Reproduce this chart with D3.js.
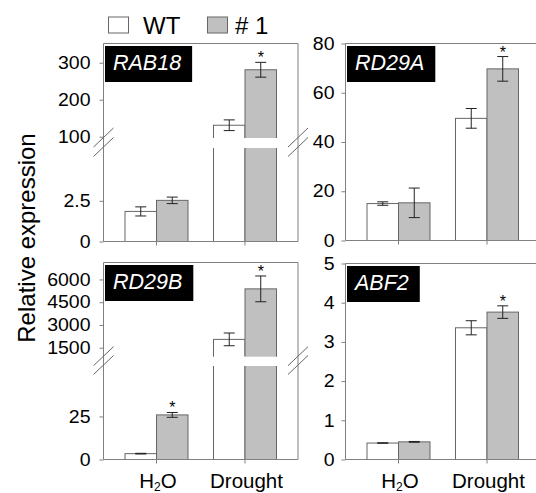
<!DOCTYPE html>
<html><head><meta charset="utf-8">
<script src="https://cdn.jsdelivr.net/npm/d3@7"></script>
<style>body{margin:0;background:#fff}svg{display:block;font-family:"Liberation Sans",Arial,sans-serif}</style>
</head><body><svg id="c" width="536" height="493"></svg>
<script>
// ---------- data ----------
const categories = ["H2O", "Drought"];
const series = ["WT", "# 1"];
const genes = ["RAB18", "RD29A", "RD29B", "ABF2"];

const RAB18_WT = [1.85, 131], RAB18_WT_ERR = [0.28, 14.5];
const RAB18_L1 = [2.53, 281], RAB18_L1_ERR = [0.2, 20];
const RAB18_SIG = [false, true];
const RAB18_TICKS_LOW = [0, 2.5], RAB18_TICKS_HIGH = [100, 200, 300];
const RAB18_DOMAIN_LOW = [0, 5.75], RAB18_DOMAIN_HIGH = [96.5, 352];

const RD29A_WT = [15, 49.6], RD29A_WT_ERR = [0.7, 4];
const RD29A_L1 = [15.3, 69.7], RD29A_L1_ERR = [6, 5];
const RD29A_SIG = [false, true];
const RD29A_TICKS = [0, 20, 40, 60, 80], RD29A_DOMAIN = [0, 80];

const RD29B_WT = [3.4, 2050], RD29B_WT_ERR = [0.2, 420];
const RD29B_L1 = [25.9, 5380], RD29B_L1_ERR = [1.4, 850];
const RD29B_SIG = [true, true];
const RD29B_TICKS_LOW = [0, 25], RD29B_TICKS_HIGH = [1500, 3000, 4500, 6000];
const RD29B_DOMAIN_LOW = [0, 54.3], RD29B_DOMAIN_HIGH = [908, 7118];

const ABF2_WT = [0.42, 3.36], ABF2_WT_ERR = [0.005, 0.18];
const ABF2_L1 = [0.45, 3.76], ABF2_L1_ERR = [0.01, 0.16];
const ABF2_SIG = [false, true];
const ABF2_TICKS = [0, 1, 2, 3, 4, 5], ABF2_DOMAIN = [0, 5];

// ---------- layout ----------
const W = 194.5;
const AXIS = "#808080", BARSTROKE = "#666", GRAY = "#c0c0c0";
const panels = [
  {gene: genes[0], wt: RAB18_WT, wtE: RAB18_WT_ERR, l1: RAB18_L1, l1E: RAB18_L1_ERR, sig: RAB18_SIG,
   lowD: RAB18_DOMAIN_LOW, highD: RAB18_DOMAIN_HIGH, lowT: RAB18_TICKS_LOW, highT: RAB18_TICKS_HIGH,
   x0: 103.5, top: 43.5, bottom: 241.5, gap: [138, 148], pad: 9, xl: false},
  {gene: genes[1], wt: RD29A_WT, wtE: RD29A_WT_ERR, l1: RD29A_L1, l1E: RD29A_L1_ERR, sig: RD29A_SIG,
   lowD: RD29A_DOMAIN, lowT: RD29A_TICKS,
   x0: 345.5, top: 43.5, bottom: 240.5, gap: null, pad: 7, xl: false},
  {gene: genes[2], wt: RD29B_WT, wtE: RD29B_WT_ERR, l1: RD29B_L1, l1E: RD29B_L1_ERR, sig: RD29B_SIG,
   lowD: RD29B_DOMAIN_LOW, highD: RD29B_DOMAIN_HIGH, lowT: RD29B_TICKS_LOW, highT: RD29B_TICKS_HIGH,
   x0: 103.5, top: 262.5, bottom: 459.5, gap: [356.7, 366], pad: 9, xl: true},
  {gene: genes[3], wt: ABF2_WT, wtE: ABF2_WT_ERR, l1: ABF2_L1, l1E: ABF2_L1_ERR, sig: ABF2_SIG,
   lowD: ABF2_DOMAIN, lowT: ABF2_TICKS,
   x0: 345.5, top: 263.5, bottom: 459.5, gap: null, pad: 7, xl: true}
];

const svg = d3.select("#c");

// legend
const legX = [108.5, 207.5], legTX = [143, 235];
series.forEach((s, i) => {
  svg.append("rect").attr("x", legX[i]).attr("y", 17).attr("width", 20).attr("height", 16)
    .attr("fill", i ? GRAY : "#fff").attr("stroke", BARSTROKE);
  svg.append("text").attr("x", legTX[i]).attr("y", 34.3).attr("font-size", 24).text(s);
});

// y title
svg.append("text").attr("transform", "translate(35,238) rotate(-90)")
  .attr("text-anchor", "middle").attr("font-size", 24).text("Relative expression");

panels.forEach(p => {
  const g = svg.append("g");
  const x = d3.scaleBand().domain(categories).range([p.x0, p.x0 + W]).paddingInner(0.288).paddingOuter(0.243);
  const xs = d3.scaleBand().domain(series).range([0, x.bandwidth()]);
  const low = d3.scaleLinear().domain(p.lowD).range([p.bottom, p.gap ? p.gap[1] : p.top]);
  const high = p.gap ? d3.scaleLinear().domain(p.highD).range([p.gap[0], p.top]) : null;
  const y = v => (high && v > p.lowD[1]) ? high(v) : low(v);

  // bars
  const rows = [];
  categories.forEach((c, ci) => {
    rows.push({c, s: series[0], v: p.wt[ci], e: p.wtE[ci], sig: false});
    rows.push({c, s: series[1], v: p.l1[ci], e: p.l1E[ci], sig: p.sig[ci]});
  });
  rows.forEach(r => {
    const bx = x(r.c) + xs(r.s), bw = xs.bandwidth();
    g.append("rect").attr("x", bx).attr("y", y(r.v)).attr("width", bw).attr("height", p.bottom - y(r.v))
      .attr("fill", r.s === series[0] ? "#fff" : GRAY).attr("stroke", BARSTROKE).attr("stroke-width", 1);
  });
  // gap overlay
  if (high) rows.filter(r => r.v > p.lowD[1]).forEach(r => {
    const bx = x(r.c) + xs(r.s), bw = xs.bandwidth();
    g.append("rect").attr("x", bx - 1).attr("y", p.gap[0]).attr("width", bw + 2)
      .attr("height", p.gap[1] - p.gap[0]).attr("fill", "#fff");
  });
  // error bars + asterisks
  rows.forEach(r => {
    const cx = x(r.c) + xs(r.s) + xs.bandwidth() / 2;
    const y1 = y(r.v + r.e), y2 = y(r.v - r.e);
    g.append("line").attr("x1", cx).attr("x2", cx).attr("y1", y1).attr("y2", y2).attr("stroke", "#222");
    [y1, y2].forEach(yy => g.append("line").attr("x1", cx - 5.5).attr("x2", cx + 5.5)
      .attr("y1", yy).attr("y2", yy).attr("stroke", "#222"));
    if (r.sig) g.append("text").attr("x", cx).attr("y", y1 + 1).attr("text-anchor", "middle")
      .attr("font-size", 16).text("*");
  });

  // frame
  const fr = [[p.x0, p.top, p.x0, p.bottom], [p.x0, p.bottom, p.x0 + W, p.bottom],
              [p.x0, p.top, p.x0 + W, p.top], [p.x0 + W, p.top, p.x0 + W, p.bottom]];
  fr.forEach(l => g.append("line").attr("x1", l[0]).attr("y1", l[1]).attr("x2", l[2]).attr("y2", l[3])
    .attr("stroke", AXIS));

  // y axes
  const drawAxis = (sc, ticks) => {
    const a = g.append("g").attr("transform", `translate(${p.x0},0)`)
      .call(d3.axisLeft(sc).tickValues(ticks).tickSize(4).tickSizeOuter(0).tickPadding(p.pad).tickFormat(String));
    a.select(".domain").remove();
    a.selectAll(".tick line").attr("stroke", AXIS);
    a.selectAll(".tick text").attr("font-size", 19.5).attr("fill", "#000")
      .attr("font-family", '"Liberation Sans", Arial, sans-serif').attr("transform", "scale(1,0.92)");
  };
  drawAxis(low, p.lowT);
  if (high) drawAxis(high, p.highT);

  // break marks
  if (high) {
    [p.x0, p.x0 + W].forEach(bxp => {
      [p.gap[0] - 0.5, p.gap[1] - 1].forEach(cy => {
        g.append("line").attr("x1", bxp - 10).attr("y1", cy + 9.5).attr("x2", bxp + 10).attr("y2", cy - 9.5)
          .attr("stroke", "#666");
      });
    });
  }

  // x ticks
  categories.forEach(c => {
    const cx = x(c) + x.bandwidth() / 2;
    g.append("line").attr("x1", cx).attr("x2", cx).attr("y1", p.bottom).attr("y2", p.bottom + 4).attr("stroke", AXIS);
  });

  // x labels
  if (p.xl) {
    categories.forEach(c => {
      const cx = x(c) + x.bandwidth() / 2 + 1.5;
      const t = g.append("text").attr("x", cx).attr("y", 488).attr("text-anchor", "middle").attr("font-size", 20.5);
      const parts = c.split(/(\d+)/).filter(s => s.length);
      let shifted = false;
      parts.forEach(s => {
        if (/^\d+$/.test(s)) { t.append("tspan").attr("font-size", 12).attr("dy", 3).text(s); shifted = true; }
        else { t.append("tspan").attr("dy", shifted ? -3 : 0).text(s); shifted = false; }
      });
    });
  }

  // gene label box
  const lbl = g.append("text").attr("x", p.x0 + 9.5).attr("y", p.top + 2.5 + 24)
    .attr("font-size", 21.5).attr("font-style", "italic").attr("fill", "#fff").text(p.gene);
  const len = lbl.node().getComputedTextLength();
  g.insert("rect", () => lbl.node()).attr("x", p.x0 + 1.5).attr("y", p.top + 2.5)
    .attr("width", len + 19).attr("height", 36).attr("fill", "#000");
});
</script></body></html>
